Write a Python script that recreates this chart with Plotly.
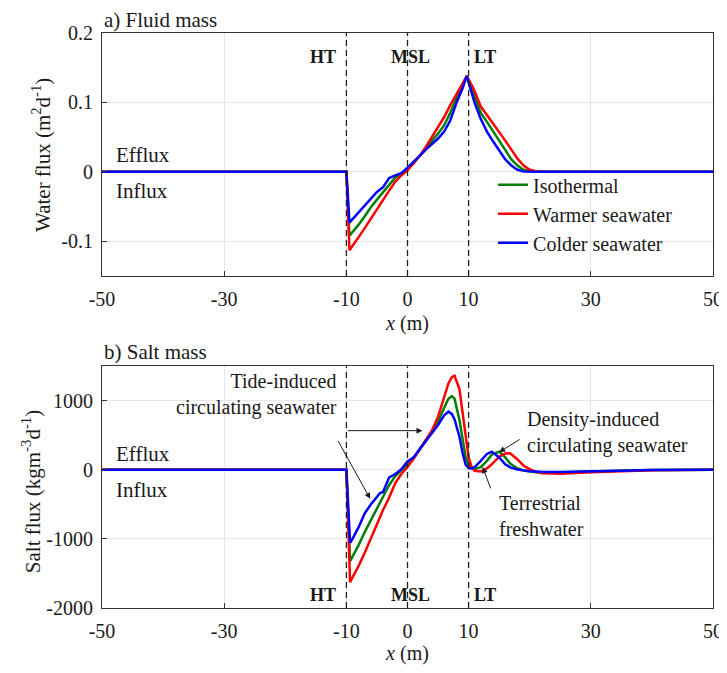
import plotly.graph_objects as go

# ---------------- data ----------------
# panel a) water flux (m2/d)
xa = [-50, -10, -9.5, -9, -8, -7, -6, -5, -4, -3, -2, -1, 0, 1, 2, 3, 4, 5, 6, 7, 8, 9, 9.7,
      10.5, 11, 12, 13, 14, 15, 16, 17, 18, 19, 20, 21, 22, 50]
water_iso = [0, 0, -0.092, -0.087, -0.076, -0.064, -0.051, -0.040, -0.029, -0.018, -0.008, -0.003,
             0.004, 0.013, 0.023, 0.034, 0.045, 0.055, 0.067, 0.085, 0.106, 0.124, 0.138,
             0.119, 0.108, 0.085, 0.072, 0.058, 0.045, 0.031, 0.018, 0.009, 0.003, 0.001, 0, 0, 0]
water_warm = [0, 0, -0.113, -0.107, -0.094, -0.081, -0.067, -0.053, -0.040, -0.027, -0.014, -0.005,
              0.002, 0.012, 0.023, 0.036, 0.050, 0.064, 0.079, 0.096, 0.112, 0.126, 0.138,
              0.125, 0.116, 0.094, 0.082, 0.070, 0.057, 0.045, 0.032, 0.019, 0.009, 0.003, 0.001, 0, 0]
water_cold = [0, 0, -0.073, -0.068, -0.058, -0.049, -0.039, -0.029, -0.022, -0.009, -0.005, -0.002,
              0.006, 0.014, 0.023, 0.032, 0.040, 0.048, 0.058, 0.074, 0.099, 0.120, 0.138,
              0.112, 0.099, 0.076, 0.058, 0.044, 0.031, 0.018, 0.009, 0.003, 0.0005, 0, 0, 0, 0]

# panel b) salt flux (kg m-3 d-1)
xb = [-50, -10, -9.4, -9, -8, -7, -6, -5, -4.5, -4, -3, -2, -1, 0, 1, 2, 3, 4, 5, 6, 6.7, 7.25,
      7.7, 8.5, 9, 9.5, 10, 10.5, 11, 12, 13, 13.8, 15, 16, 16.8, 18, 19, 20, 21, 22, 25, 30, 35, 40, 50]
salt_iso = [0, 0, -1323, -1260, -1090, -900, -730, -565, -480, -410, -220, -90, -10, 80, 170, 300,
            420, 540, 700, 900, 1030, 1068, 1030, 720, 440, 190, 70, 20, 12, 40, 130, 220, 264,
            180, 90, 20, -10, -25, -35, -40, -40, -25, -12, -4, 0]
salt_warm = [0, 0, -1626, -1560, -1390, -1200, -990, -770, -680, -580, -400, -190, -60, 40, 160, 300,
             430, 570, 770, 1060, 1250, 1340, 1361, 1170, 820, 480, 180, 40, -15, -25, 20, 80, 190,
             235, 240, 150, 60, 10, -30, -50, -55, -35, -15, -5, 0]
salt_cold = [0, 0, -1058, -1000, -830, -630, -500, -390, -335, -320, -110, -60, 10, 120, 180, 300,
             420, 530, 650, 790, 842, 810, 730, 480, 250, 80, 25, 20, 40, 130, 230, 264, 180,
             80, 35, 5, -10, -20, -25, -30, -30, -20, -10, -3, 0]

series_names = ["Isothermal", "Warmer seawater", "Colder seawater"]
series_colors = ["#008000", "#ff0000", "#0000ff"]

tide_x = [-10, 0, 10]
tide_labels = ["HT", "MSL", "LT"]

x_ticks = [-50, -30, -10, 0, 10, 30, 50]
ya_ticks = [-0.1, 0, 0.1, 0.2]
ya_ticklabels = ["-0.1", "0", "0.1", "0.2"]
yb_ticks = [-2000, -1000, 0, 1000]
yb_ticklabels = ["-2000", "-1000", "0", "1000"]

# ---------------- figure ----------------
FONT = '"Liberation Serif", "Times New Roman", Times, serif'
INK = "#1a1a1a"
fig = go.Figure()

for name, col, ya_, yb_ in zip(series_names, series_colors,
                               [water_iso, water_warm, water_cold],
                               [salt_iso, salt_warm, salt_cold]):
    fig.add_trace(go.Scatter(x=xa, y=ya_, mode="lines", name=name,
                             line=dict(color=col, width=2.5), xaxis="x", yaxis="y"))
    fig.add_trace(go.Scatter(x=xb, y=yb_, mode="lines", name=name, showlegend=False,
                             line=dict(color=col, width=2.5), xaxis="x2", yaxis="y2"))

axis_common = dict(showline=True, mirror=True, linecolor="#333333", linewidth=1,
                   ticks="inside", ticklen=5, tickcolor="#333333", automargin=False,
                   showgrid=True, gridcolor="#e6e6e6", gridwidth=1, zeroline=False,
                   ticklabeloverflow="allow",
                   tickfont=dict(family=FONT, size=20, color=INK))

xtitle = dict(text="<i>x</i> (m)", standoff=7, font=dict(family=FONT, size=20, color=INK))

# the page body adds an 8 px offset; keep the page free of scrollbars
fig.update_layout(
    width=719, height=657,
    margin=dict(l=94, r=14, t=25, b=57),
    paper_bgcolor="white", plot_bgcolor="white",
    font=dict(family=FONT, size=20, color=INK),
    showlegend=True,
    legend=dict(x=0.64, y=0.77, xanchor="left", yanchor="top",
                bgcolor="rgba(0,0,0,0)", borderwidth=0,
                font=dict(family=FONT, size=20, color=INK),
                tracegroupgap=0, itemwidth=30),
    xaxis=dict(domain=[0, 1], anchor="y", range=[-50, 50], tickvals=x_ticks,
               ticktext=[str(v) for v in x_ticks], ticklabelstandoff=5,
               title=xtitle, **axis_common),
    yaxis=dict(domain=[0.5774, 1], anchor="x", range=[-0.15, 0.2], tickvals=ya_ticks,
               ticktext=ya_ticklabels, ticklabelstandoff=4, **axis_common),
    xaxis2=dict(domain=[0, 1], anchor="y2", range=[-50, 50], tickvals=x_ticks,
                ticktext=[str(v) for v in x_ticks], ticklabelstandoff=5,
                title=xtitle, **axis_common),
    yaxis2=dict(domain=[0, 0.4205], anchor="x2", range=[-2000, 1500], tickvals=yb_ticks,
                ticktext=yb_ticklabels, ticklabelstandoff=4, **axis_common),
)

# tide reference lines
for t in tide_x:
    for xref, yref in [("x", "y domain"), ("x2", "y2 domain")]:
        fig.add_shape(type="line", xref=xref, yref=yref, x0=t, x1=t, y0=0, y1=1,
                      line=dict(color="#222222", width=1.3, dash="6px,4px"), layer="above")

ann = []
txt = dict(family=FONT, size=21, color=INK)
small = dict(family=FONT, size=20, color=INK)
bold = dict(family=FONT, size=18, color=INK)

# titles
ann.append(dict(text="a) Fluid mass", xref="paper", yref="paper", x=0, y=1.0226,
                xanchor="left", yanchor="middle", showarrow=False, font=txt))
ann.append(dict(text="b) Salt mass", xref="paper", yref="paper", x=0, y=0.445,
                xanchor="left", yanchor="middle", showarrow=False, font=txt))
# y-axis titles
ann.append(dict(text="Water flux (m<sup>2</sup>d<sup>-1</sup>)", xref="paper", yref="paper",
                x=-0.099, y=0.787, textangle=-90, xanchor="center", yanchor="middle",
                showarrow=False, font=txt))
ann.append(dict(text="Salt flux (kgm<sup>-3</sup>d<sup>-1</sup>)", xref="paper", yref="paper",
                x=-0.114, y=0.202, textangle=-90, xanchor="center", yanchor="middle",
                showarrow=False, font=txt))

# tide labels (HT left of its line, MSL centred, LT right of its line)
tide_offsets = [(-1.4, "right"), (0.5, "center"), (0.6, "left")]
for t, lab, (off, anc) in zip(tide_x, tide_labels, tide_offsets):
    ann.append(dict(text="<b>%s</b>" % lab, xref="x", yref="y", x=t + off, y=0.166,
                    xanchor=anc, yanchor="middle", showarrow=False, font=bold))
    ann.append(dict(text="<b>%s</b>" % lab, xref="x2", yref="y2", x=t + off, y=-1810,
                    xanchor=anc, yanchor="middle", showarrow=False, font=bold))

# efflux / influx
ann += [
    dict(text="Efflux", xref="x", yref="y", x=-48, y=0.024, xanchor="left", yanchor="middle",
         showarrow=False, font=txt),
    dict(text="Influx", xref="x", yref="y", x=-48, y=-0.027, xanchor="left", yanchor="middle",
         showarrow=False, font=txt),
    dict(text="Efflux", xref="x2", yref="y2", x=-48, y=227, xanchor="left", yanchor="middle",
         showarrow=False, font=txt),
    dict(text="Influx", xref="x2", yref="y2", x=-48, y=-290, xanchor="left", yanchor="middle",
         showarrow=False, font=txt),
]

# panel b descriptive annotations
ann += [
    dict(text="Tide-induced<br>circulating seawater", xref="x2", yref="y2", x=-11.2, y=1089,
         xanchor="right", yanchor="middle", align="right", showarrow=False, font=small),
    dict(text="Density-induced<br>circulating seawater", xref="x2", yref="y2", x=19.2, y=546,
         xanchor="left", yanchor="middle", align="left", showarrow=False, font=small),
    dict(text="Terrestrial<br>freshwater", xref="x2", yref="y2", x=14.6, y=-670,
         xanchor="left", yanchor="middle", align="left", showarrow=False, font=small),
]
arrows = [((-10, 567), (2.45, 567)), ((-11.5, 440), (-6.1, -420)),
          ((18.6, 453), (15.0, 256)), ((13.7, -290), (12.3, 40))]
for (tx, ty), (hx, hy) in arrows:
    ann.append(dict(text="", xref="x2", yref="y2", x=hx, y=hy, axref="x2", ayref="y2",
                    ax=tx, ay=ty, showarrow=True, arrowhead=2, arrowsize=1.2,
                    arrowwidth=1, arrowcolor=INK))

fig.update_layout(annotations=ann)
fig.write_html("out.html")
